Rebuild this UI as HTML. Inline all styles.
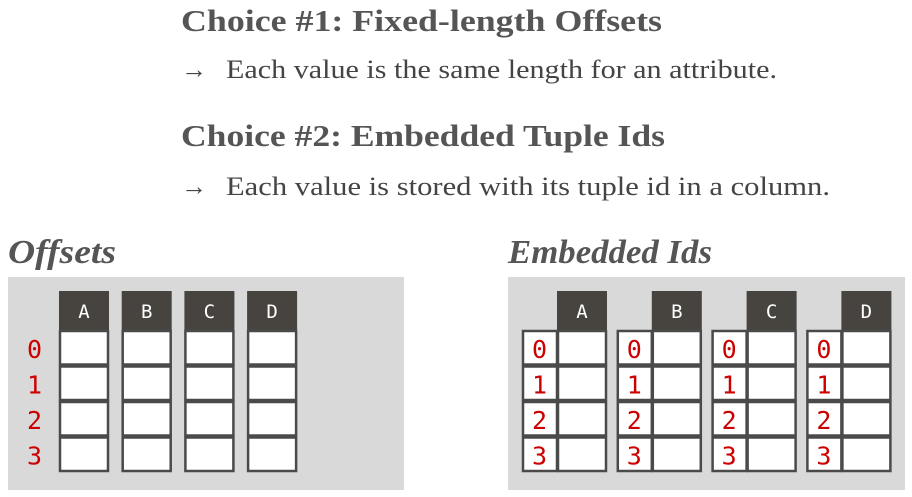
<!DOCTYPE html>
<html><head><meta charset="utf-8"><style>
html,body{margin:0;padding:0;background:#fff;width:912px;height:497px;overflow:hidden}
svg{display:block}
.h{font-family:"Liberation Serif",serif;font-weight:bold;fill:#555;font-size:31px}
.t{font-family:"Liberation Serif",serif;fill:#444;font-size:26px}
.s{font-family:"Liberation Serif",serif;font-weight:bold;font-style:italic;fill:#555;font-size:34px}
.hd{font-family:"DejaVu Sans Mono","Liberation Mono",monospace;fill:#fff;font-size:19px}
.n{font-family:"DejaVu Sans Mono","Liberation Mono",monospace;fill:#c00;font-size:25px}
</style></head><body>
<svg width="912" height="497" xmlns="http://www.w3.org/2000/svg">
<text class="h" x="181" y="31" textLength="481" lengthAdjust="spacingAndGlyphs">Choice #1: Fixed-length Offsets</text>
<text class="t" x="181" y="78">→</text>
<text class="t" x="226" y="78" textLength="551" lengthAdjust="spacingAndGlyphs">Each value is the same length for an attribute.</text>
<text class="h" x="181" y="146" textLength="484" lengthAdjust="spacingAndGlyphs">Choice #2: Embedded Tuple Ids</text>
<text class="t" x="181" y="195">→</text>
<text class="t" x="226" y="195" textLength="604" lengthAdjust="spacingAndGlyphs">Each value is stored with its tuple id in a column.</text>
<text class="s" x="8" y="263" textLength="108" lengthAdjust="spacingAndGlyphs">Offsets</text>
<text class="s" x="508" y="263" textLength="204" lengthAdjust="spacingAndGlyphs">Embedded Ids</text>
<rect x="8" y="277" width="396" height="213" fill="#d9d9d9"/>
<rect x="508" y="277" width="397" height="213" fill="#d9d9d9"/>
<g id="left"></g><g id="right"></g>
</svg>
<script>
const cols=["A","B","C","D"];
const ids=["0","1","2","3"];
const NS="http://www.w3.org/2000/svg";
function mk(p,tag,a,txt){const e=document.createElementNS(NS,tag);for(const k in a)e.setAttribute(k,a[k]);if(txt!==undefined)e.textContent=txt;p.appendChild(e);return e;}
const rowY=i=>330+i*35.5, rh=35.5;
const L=document.getElementById('left'),R=document.getElementById('right');
cols.forEach((c,ci)=>{
  const x=59+ci*62.7;
  const h=mk(L,'rect',{x:x,y:291,width:50,height:39,fill:'#474440'});
  
  
  mk(L,'text',{x:x+25,y:318,class:'hd','text-anchor':'middle'},c);
  ids.forEach((d,ri)=>{
    const r=mk(L,'rect',{x:x+1,y:rowY(ri)+1,width:48,height:rh-2,fill:'#fff',stroke:'#4a4a4a','stroke-width':2.5});
    
    
  });
  const gx=522+ci*94.8;
  const h2=mk(R,'rect',{x:gx+35,y:291,width:50,height:39,fill:'#474440'});
  
  
  mk(R,'text',{x:gx+60,y:318,class:'hd','text-anchor':'middle'},c);
  ids.forEach((d,ri)=>{
    const a=mk(R,'rect',{x:gx+1,y:rowY(ri)+1,width:34,height:rh-2,fill:'#fff',stroke:'#4a4a4a','stroke-width':2.5});
    
    
    mk(R,'text',{x:gx+10,y:rowY(ri)+28,class:'n'},d);
    const b=mk(R,'rect',{x:gx+36,y:rowY(ri)+1,width:48,height:rh-2,fill:'#fff',stroke:'#4a4a4a','stroke-width':2.5});
    
    
  });
});
ids.forEach((d,ri)=>{
  const t=mk(L,'text',{x:27,y:rowY(ri)+28,class:'n'},d);
  
  
});
</script>
</body></html>
